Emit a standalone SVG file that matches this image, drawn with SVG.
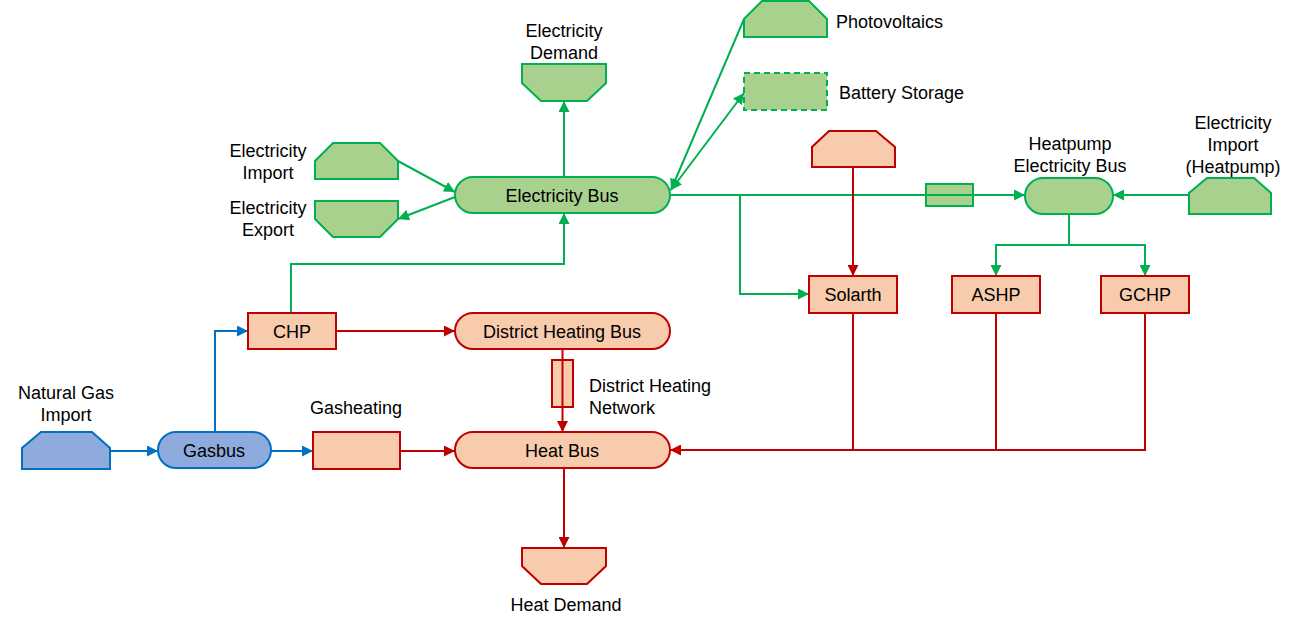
<svg xmlns="http://www.w3.org/2000/svg" width="1300" height="627" viewBox="0 0 1300 627">
<style>
.g{fill:#A9D18E;stroke:#00B050;stroke-width:2}
.r{fill:#F8CBAD;stroke:#C00000;stroke-width:2}
.b{fill:#8FAADC;stroke:#0070C0;stroke-width:2}
.cg{fill:none;stroke:#00B050;stroke-width:2}
.cr{fill:none;stroke:#C00000;stroke-width:2}
.cb{fill:none;stroke:#0070C0;stroke-width:2}
text{font-family:"Liberation Sans",Arial,sans-serif;font-size:18px;fill:#000}
.m{text-anchor:middle}
</style>
<defs>
<marker id="ag" viewBox="0 0 10 10" refX="10" refY="5" markerWidth="11" markerHeight="11" markerUnits="userSpaceOnUse" orient="auto-start-reverse"><path d="M0,0L10,5L0,10z" fill="#00B050"/></marker>
<marker id="ar" viewBox="0 0 10 10" refX="10" refY="5" markerWidth="11" markerHeight="11" markerUnits="userSpaceOnUse" orient="auto-start-reverse"><path d="M0,0L10,5L0,10z" fill="#C00000"/></marker>
<marker id="ab" viewBox="0 0 10 10" refX="10" refY="5" markerWidth="11" markerHeight="11" markerUnits="userSpaceOnUse" orient="auto-start-reverse"><path d="M0,0L10,5L0,10z" fill="#0070C0"/></marker>
</defs>
<rect width="1300" height="627" fill="#fff"/>
<g id="hp-transformer"><rect class="g" x="926" y="184" width="47" height="22"/></g>
<g id="district-heating-network"><rect class="r" x="552" y="360" width="21" height="47"/><text x="589" y="391.5">District Heating</text><text x="589" y="413.5">Network</text></g>
<g id="connectors">
<path class="cg" d="M564,177V101" marker-end="url(#ag)"/>
<path class="cg" d="M398,161L455,192" marker-end="url(#ag)"/>
<path class="cg" d="M455,197L398,219" marker-end="url(#ag)"/>
<path class="cg" d="M744,19L671,190" marker-end="url(#ag)"/>
<path class="cg" d="M671,190L744,93" marker-start="url(#ag)" marker-end="url(#ag)"/>
<path class="cg" d="M670,195H1025" marker-end="url(#ag)"/>
<path class="cg" d="M740,195V294H809" marker-end="url(#ag)"/>
<path class="cg" d="M291,313V264H564V213" marker-end="url(#ag)"/>
<path class="cg" d="M1069,214V245H996V276" marker-end="url(#ag)"/>
<path class="cg" d="M1069,245H1145V276" marker-end="url(#ag)"/>
<path class="cg" d="M1188,195H1113" marker-end="url(#ag)"/>
<path class="cr" d="M853,167V276" marker-end="url(#ar)"/>
<path class="cr" d="M336,331H455" marker-end="url(#ar)"/>
<path class="cr" d="M562.5,349V432" marker-end="url(#ar)"/>
<path class="cr" d="M400,451H455" marker-end="url(#ar)"/>
<path class="cr" d="M564,468V548" marker-end="url(#ar)"/>
<path class="cr" d="M853,313V450"/>
<path class="cr" d="M996,313V450"/>
<path class="cr" d="M1145,313V450H670" marker-end="url(#ar)"/>
<path class="cb" d="M110,451H158" marker-end="url(#ab)"/>
<path class="cb" d="M271,451H313" marker-end="url(#ab)"/>
<path class="cb" d="M215,432V331H248" marker-end="url(#ab)"/>
</g>
<g id="electricity-demand"><polygon class="g" points="522,64 606,64 606,83 587,101 541,101 522,83"/><text class="m" x="564" y="37">Electricity</text><text class="m" x="564" y="59">Demand</text></g>
<g id="electricity-import"><polygon class="g" points="315,179 315,161 333,143 380,143 398,161 398,179"/><text class="m" x="268" y="157">Electricity</text><text class="m" x="268" y="179">Import</text></g>
<g id="electricity-export"><polygon class="g" points="315,201 398,201 398,219 380,237 333,237 315,219"/><text class="m" x="268" y="214">Electricity</text><text class="m" x="268" y="236">Export</text></g>
<g id="electricity-bus"><rect class="g" x="455" y="177" width="215" height="36" rx="18"/><text class="m" x="562" y="201.5">Electricity Bus</text></g>
<g id="photovoltaics"><polygon class="g" points="744,37 744,19 762,1 809,1 827,19 827,37"/><text x="836" y="28">Photovoltaics</text></g>
<g id="battery-storage"><rect class="g" x="744" y="73" width="83" height="37" stroke-dasharray="6,4"/><text x="839" y="99">Battery Storage</text></g>
<g id="heatpump-bus"><rect class="g" x="1025" y="178" width="88" height="36" rx="18"/><text class="m" x="1070" y="150">Heatpump</text><text class="m" x="1070" y="172">Electricity Bus</text></g>
<g id="electricity-import-heatpump"><polygon class="g" points="1189,214 1189,193 1207,178 1254,178 1271,193 1271,214"/><text class="m" x="1233" y="129">Electricity</text><text class="m" x="1233" y="151">Import</text><text class="m" x="1233" y="173">(Heatpump)</text></g>
<g id="solarth-source"><polygon class="r" points="812,167 812,147 829,131 876,131 895,147 895,167"/></g>
<g id="solarth"><rect class="r" x="809" y="276" width="88" height="37"/><text class="m" x="853" y="301">Solarth</text></g>
<g id="ashp"><rect class="r" x="952" y="276" width="88" height="37"/><text class="m" x="996" y="301">ASHP</text></g>
<g id="gchp"><rect class="r" x="1101" y="276" width="88" height="37"/><text class="m" x="1145" y="301">GCHP</text></g>
<g id="chp"><rect class="r" x="248" y="313" width="88" height="36"/><text class="m" x="292" y="337.5">CHP</text></g>
<g id="district-heating-bus"><rect class="r" x="455" y="313" width="215" height="36" rx="18"/><text class="m" x="562" y="337.5">District Heating Bus</text></g>
<g id="natural-gas-import"><polygon class="b" points="22,469 22,448 41,432 92,432 110,448 110,469"/><text class="m" x="66" y="398.5">Natural Gas</text><text class="m" x="66" y="420.5">Import</text></g>
<g id="gasbus"><rect class="b" x="158" y="432" width="113" height="36" rx="18"/><text class="m" x="214" y="456.5">Gasbus</text></g>
<g id="gasheating"><rect class="r" x="313" y="432" width="87" height="37"/><text class="m" x="356" y="413.5">Gasheating</text></g>
<g id="heat-bus"><rect class="r" x="455" y="432" width="215" height="36" rx="18"/><text class="m" x="562" y="456.5">Heat Bus</text></g>
<g id="heat-demand"><polygon class="r" points="522,548 606,548 606,566 587,584 541,584 522,566"/><text class="m" x="566" y="610.5">Heat Demand</text></g>
</svg>
